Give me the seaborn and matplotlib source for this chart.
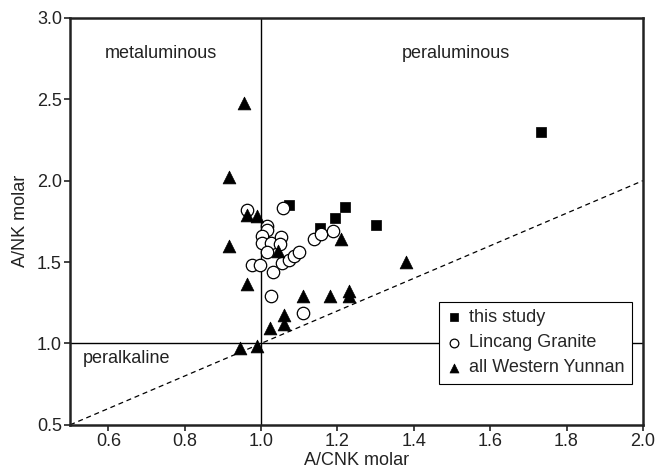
import matplotlib
matplotlib.use("Agg")
import matplotlib.pyplot as plt
import seaborn as sns
import pandas as pd

# ---- data ----
study_x = [1.733, 1.073, 1.220, 1.193, 1.154, 1.302]
study_y = [2.300, 1.850, 1.840, 1.770, 1.710, 1.730]

lincang_x = [0.962, 1.058, 1.015, 1.015, 1.002, 1.002, 1.025, 1.052, 1.050, 1.015,
             0.977, 0.997, 1.031, 1.054, 1.074, 1.085, 1.100, 1.139, 1.156, 1.189,
             1.025, 1.111]
lincang_y = [1.820, 1.830, 1.720, 1.700, 1.660, 1.620, 1.620, 1.655, 1.610, 1.560,
             1.480, 1.480, 1.440, 1.495, 1.510, 1.540, 1.560, 1.640, 1.675, 1.690,
             1.290, 1.185]

yunnan_x = [0.956, 0.917, 0.917, 0.963, 0.990, 1.043, 1.208, 1.380, 0.962, 1.111,
            1.180, 1.231, 1.231, 1.060, 1.060, 1.024, 0.945, 0.990]
yunnan_y = [2.475, 2.020, 1.600, 1.790, 1.780, 1.570, 1.640, 1.500, 1.363, 1.290,
            1.290, 1.320, 1.290, 1.175, 1.120, 1.093, 0.974, 0.987]

group_names = ["this study", "Lincang Granite", "all Western Yunnan"]
x_ticks = [0.6, 0.8, 1.0, 1.2, 1.4, 1.6, 1.8, 2.0]
y_ticks = [0.5, 1.0, 1.5, 2.0, 2.5, 3.0]
dash_x = [0.5, 2.0]
dash_y = [0.5, 2.0]

sns.set_style("ticks")
plt.rcParams["font.family"] = ["Liberation Sans", "DejaVu Sans"]
plt.rcParams["font.size"] = 13

fig = plt.figure(figsize=(6.56, 4.72), dpi=100)
ax = fig.add_axes([0.107, 0.1, 0.873, 0.862])

ax.axvline(1.0, color="black", lw=1.0, zorder=1)
ax.axhline(1.0, color="black", lw=1.0, zorder=1)
sns.lineplot(x=dash_x, y=dash_y, ax=ax, color="black", lw=0.9,
             linestyle=(0, (4, 3)), zorder=1)

df_s = pd.DataFrame({"x": study_x, "y": study_y})
df_l = pd.DataFrame({"x": lincang_x, "y": lincang_y})
df_y = pd.DataFrame({"x": yunnan_x, "y": yunnan_y})

sns.scatterplot(data=df_s, x="x", y="y", ax=ax, marker="s", s=55,
                color="black", edgecolor="black", linewidth=0.5,
                label=group_names[0], zorder=3)
sns.scatterplot(data=df_l, x="x", y="y", ax=ax, marker="o", s=80,
                color="white", edgecolor="black", linewidth=0.9,
                label=group_names[1], zorder=4)
sns.scatterplot(data=df_y, x="x", y="y", ax=ax, marker="^", s=85,
                color="black", edgecolor="black", linewidth=0.5,
                label=group_names[2], zorder=5)

ax.set_xlim(0.5, 2.0)
ax.set_ylim(0.5, 3.0)
ax.set_xticks(x_ticks)
ax.set_yticks(y_ticks)
ax.set_xticklabels([f"{v:.1f}" for v in x_ticks])
ax.set_yticklabels([f"{v:.1f}" for v in y_ticks])
ax.set_xlabel("A/CNK molar", fontsize=13, color="#222222", labelpad=1)
ax.set_ylabel("A/NK molar", fontsize=13, color="#222222", labelpad=6)
ax.tick_params(axis="both", direction="out", length=4, width=1.2,
               labelsize=13, colors="#222222", pad=2)
for sp in ax.spines.values():
    sp.set_visible(True)
    sp.set_linewidth(1.8)
    sp.set_color("#222222")

ax.text(0.737, 2.78, "metaluminous", ha="center", va="center", fontsize=13, color="#222222")
ax.text(1.51, 2.78, "peraluminous", ha="center", va="center", fontsize=13, color="#222222")
ax.text(0.532, 0.91, "peralkaline", ha="left", va="center", fontsize=13, color="#222222")

leg = ax.legend(loc="lower right", bbox_to_anchor=(0.981, 0.101), frameon=True,
                fancybox=False, edgecolor="black", framealpha=1, markerscale=0.7,
                handletextpad=0.4, borderpad=0.4, labelspacing=0.45,
                handlelength=0.9, borderaxespad=0, fontsize=13)
leg.get_frame().set_linewidth(0.8)

fig.savefig("out.png", dpi=100)
